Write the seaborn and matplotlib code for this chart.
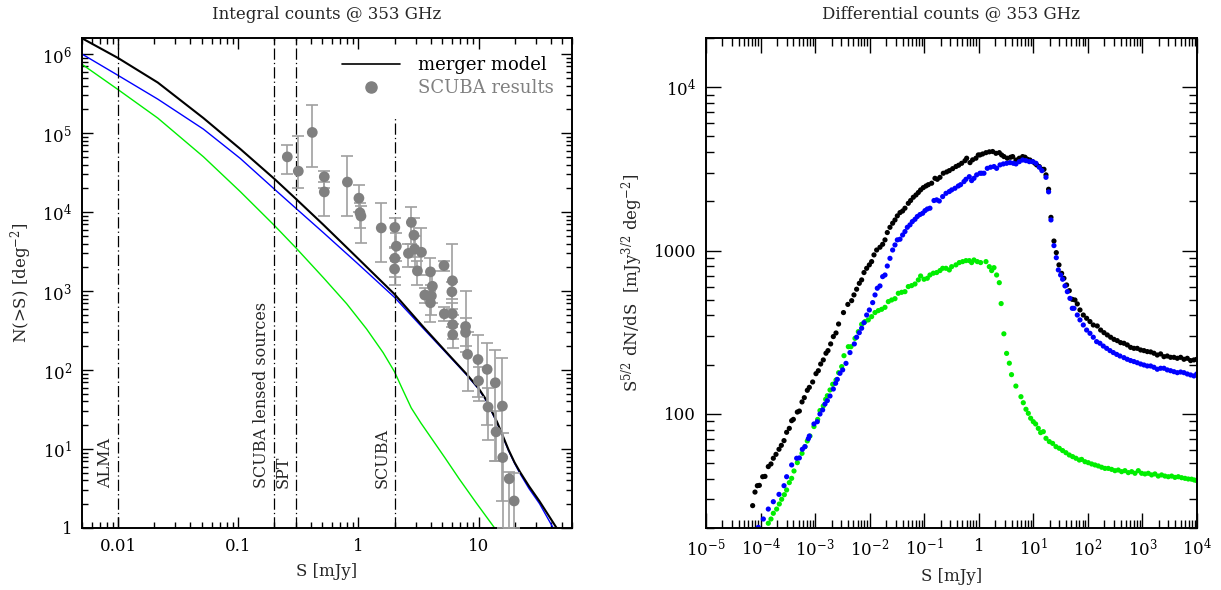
import numpy as np
import pandas as pd
import matplotlib
matplotlib.use("Agg")
import matplotlib.pyplot as plt
import seaborn as sns
from matplotlib.ticker import FixedLocator, FixedFormatter, LogLocator, NullFormatter
from matplotlib.lines import Line2D

# ---------------- data: left panel (integral counts), log10 values ----------------
logS_black = [-2.30, -2.0, -1.67, -1.29, -0.984, -0.699, -0.522, -0.292, -0.015, 0.301, 0.538, 0.760,
              0.90, 1.0, 1.065, 1.155, 1.25, 1.30, 1.345, 1.42, 1.507, 1.646, 1.70]
logN_black = [6.20, 5.95, 5.64, 5.19, 4.80, 4.42, 4.17, 3.84, 3.43, 2.96, 2.55, 2.18,
              1.95, 1.77, 1.62, 1.34, 0.99, 0.83, 0.71, 0.53, 0.34, 0.01, -0.10]

logS_blue = [-2.30, -2.0, -1.67, -1.29, -0.984, -0.699, -0.522, -0.292, -0.015, 0.301, 0.538, 0.760,
             0.90, 1.0, 1.065, 1.155, 1.25, 1.30, 1.345, 1.42, 1.507, 1.618, 1.70]
logN_blue = [6.00, 5.73, 5.43, 5.05, 4.68, 4.29, 4.05, 3.74, 3.36, 2.92, 2.53, 2.17,
             1.94, 1.76, 1.61, 1.33, 0.98, 0.82, 0.69, 0.50, 0.31, 0.01, -0.15]

logS_green = [-2.30, -2.0, -1.67, -1.29, -0.984, -0.699, -0.522, -0.292, -0.098, 0.068, 0.206, 0.30,
              0.36, 0.44, 0.52, 0.62, 0.72, 0.84, 0.98, 1.134, 1.20]
logN_green = [5.87, 5.55, 5.19, 4.70, 4.26, 3.83, 3.55, 3.17, 2.84, 2.52, 2.22, 1.98,
              1.78, 1.52, 1.33, 1.11, 0.89, 0.62, 0.32, 0.0, -0.14]

scuba_S = [0.256, 0.316, 0.413, 0.52, 0.52, 0.81, 1.01, 1.03, 1.05, 1.55, 2.01, 2.07, 2.01, 2.0,
           2.76, 2.9, 2.61, 2.94, 3.35, 3.1, 3.98, 4.13, 3.57, 4.05, 3.98, 5.16, 6.06, 6.0, 5.19,
           6.05, 6.1, 6.1, 7.8, 7.8, 8.1, 9.9, 11.8, 10.0, 13.8, 12.0, 15.8, 14.0, 15.9, 18.0, 19.8]
scuba_N = [5.0e4, 3.3e4, 1.02e5, 2.8e4, 1.8e4, 2.4e4, 1.5e4, 9.8e3, 8.9e3, 6.3e3, 6.4e3, 3.7e3, 2.6e3, 1.9e3,
           7.4e3, 5.1e3, 3.0e3, 3.4e3, 3.1e3, 1.8e3, 1.75e3, 1.15e3, 890, 870, 710, 2.1e3, 1.35e3, 980, 515,
           515, 375, 280, 356, 300, 158, 136, 102, 73, 69, 34, 35, 16.5, 7.8, 4.2, 2.2]
scuba_lo = [3.0e4, 2.0e4, 3.7e4, 2.0e4, 9.0e3, 9.0e3, 1.0e4, 6.2e3, 4.1e3, 2.3e3, 3.6e3, 2.4e3, 1.5e3, 1.2e3,
            4.0e3, 2.7e3, 2.0e3, 2.0e3, 1.6e3, 1.2e3, 7.0e2, 7.0e2, 700, 500, 400, 1.8e3, 800, 600, 420,
            350, 250, 190, 200, 170, 55, 45, 20, 40, 7, 13, 2.2, 7, 1, 1, 1]
scuba_hi = [7.1e4, 9.3e4, 2.3e5, 3.3e4, 2.4e4, 5.1e4, 2.2e4, 1.3e4, 1.2e4, 1.3e4, 8.5e3, 5.5e3, 3.5e3, 2.6e3,
            1.15e4, 8.5e3, 4.0e3, 5.0e3, 6.2e3, 2.4e3, 2.6e3, 1.8e3, 1100, 1200, 1000, 2.4e3, 3.9e3, 1300, 620,
            700, 500, 380, 1000, 450, 300, 280, 220, 110, 180, 60, 140, 30, 16, 5.1, 5.0]

limit_S = [0.01, 0.2, 0.3, 2.0]
limit_top = [1.6e6, 1.6e6, 1.6e6, 1.6e5]
limit_labels = ["ALMA", "SCUBA lensed sources", "SPT", "SCUBA"]
label_base_N = 3.2

left_xticks = [0.01, 0.1, 1, 10]
left_xticklabels = ["0.01", "0.1", "1", "10"]
left_yticks = [1, 1e1, 1e2, 1e3, 1e4, 1e5, 1e6]
left_yticklabels = ["1", "$10^1$", "$10^2$", "$10^3$", "$10^4$", "$10^5$", "$10^6$"]

# ---------------- data: right panel (differential counts), log10 values ----------------
dlogS_black = [-4.145, -4.102, -4.059, -4.022, -3.961, -3.919, -3.858, -3.809, -3.766, -3.717, -3.662,
               -3.619, -3.570, -3.522, -3.473, -3.430, -3.399, -3.326, -3.289, -3.240, -3.198, -3.143,
               -3.106, -3.045, -2.984, -2.941, -2.898, -2.850, -2.801, -2.764, -2.715, -2.666, -2.617,
               -2.57, -2.48, -2.40,
               -2.330, -2.288, -2.239, -2.190, -2.147, -2.104, -2.055, -2.006, -1.964, -1.921, -1.872,
               -1.811, -1.762, -1.719, -1.677, -1.628, -1.579, -1.536, -1.493, -1.444, -1.396, -1.353,
               -1.292, -1.249, -1.200, -1.151, -1.108, -1.066, -1.017, -0.968, -0.925, -0.864, -0.803,
               -0.760, -0.711, -0.650, -0.589, -0.540, -0.479, -0.418, -0.369, -0.314, -0.253, -0.222,
               -0.161, -0.113, -0.052, -0.009,
               0.022, 0.071, 0.132, 0.193, 0.254, 0.315, 0.376, 0.419, 0.462, 0.523, 0.584, 0.621, 0.682,
               0.743, 0.804, 0.847, 0.889, 0.938, 0.987, 1.030, 1.061, 1.109, 1.158, 1.195, 1.232, 1.280,
               1.323, 1.378, 1.421,
               1.470, 1.519, 1.561, 1.610, 1.659, 1.714, 1.763, 1.806, 1.855, 1.916, 1.977, 2.038, 2.099,
               2.172, 2.234, 2.295, 2.356, 2.417, 2.478, 2.539, 2.600, 2.661, 2.722, 2.783, 2.844, 2.905,
               2.967, 3.028, 3.089, 3.150, 3.211, 3.272, 3.333, 3.394, 3.455, 3.516, 3.578, 3.639, 3.700,
               3.761, 3.822, 3.883, 3.944, 3.995]
dlogY_black = [1.438, 1.521, 1.560, 1.562, 1.615, 1.617, 1.677, 1.693, 1.728, 1.752, 1.783,
               1.807, 1.836, 1.887, 1.911, 1.958, 1.966, 2.011, 2.017, 2.073, 2.099, 2.144,
               2.162, 2.195, 2.246, 2.264, 2.305, 2.330, 2.371, 2.387, 2.428, 2.473, 2.495,
               2.55, 2.62, 2.67,
               2.693, 2.728, 2.763, 2.799, 2.820, 2.865, 2.891, 2.912, 2.932, 2.973, 3.003,
               3.020, 3.038, 3.065, 3.110, 3.142, 3.167, 3.187, 3.212, 3.232, 3.242, 3.259,
               3.289, 3.306, 3.326, 3.340, 3.355, 3.371, 3.385, 3.395, 3.403, 3.412, 3.442,
               3.436, 3.448, 3.473, 3.481, 3.489, 3.501, 3.514, 3.522, 3.534, 3.550, 3.565,
               3.538, 3.555, 3.565, 3.585,
               3.585, 3.591, 3.599, 3.604, 3.606, 3.595, 3.599, 3.585, 3.575, 3.565, 3.571, 3.575, 3.554,
               3.565, 3.575, 3.571, 3.559, 3.554, 3.544, 3.534, 3.524, 3.514, 3.497, 3.497, 3.463, 3.375,
               3.203, 3.058, 2.987,
               2.912, 2.860, 2.830, 2.789, 2.754, 2.701, 2.697, 2.673, 2.636, 2.605, 2.585, 2.565, 2.544,
               2.538, 2.513, 2.497, 2.483, 2.469, 2.456, 2.448, 2.436, 2.432, 2.422, 2.407, 2.401, 2.401,
               2.391, 2.387, 2.381, 2.379, 2.371, 2.360, 2.367, 2.350, 2.354, 2.346, 2.346, 2.340, 2.346,
               2.334, 2.340, 2.326, 2.330, 2.334]

dlogS_blue = [-4.041, -3.949, -3.858, -3.766, -3.662, -3.570, -3.522, -3.430, -3.338, -3.289, -3.234,
              -3.186, -3.124, -3.106, -3.021, -2.960, -2.911, -2.862, -2.819, -2.776, -2.727, -2.666,
              -2.624, -2.593, -2.544, -2.495, -2.434, -2.361, -2.281,
              -2.239, -2.190, -2.147, -2.104, -2.055, -2.006, -1.945, -1.902, -1.860, -1.811, -1.762,
              -1.719, -1.677, -1.628, -1.579, -1.536, -1.493, -1.444, -1.396, -1.353, -1.310, -1.261,
              -1.218, -1.169, -1.127, -1.078, -1.029, -0.986, -0.943, -0.895, -0.821, -0.772, -0.724,
              -0.662, -0.601, -0.540, -0.497, -0.436, -0.375, -0.333, -0.271, -0.235, -0.174, -0.131,
              -0.088, -0.039, 0.022,
              0.053, 0.095, 0.156, 0.217, 0.279, 0.327, 0.389, 0.450, 0.511, 0.572, 0.633, 0.682, 0.743,
              0.804, 0.865, 0.926, 0.987, 1.048, 1.109, 1.158, 1.232, 1.280, 1.323, 1.378, 1.421,
              1.458, 1.500, 1.537, 1.580, 1.623, 1.671, 1.714, 1.745, 1.806, 1.855, 1.916, 1.977, 2.038,
              2.099, 2.160, 2.221, 2.282, 2.344, 2.405, 2.466, 2.527, 2.588, 2.661, 2.722, 2.783, 2.844,
              2.905, 2.967, 3.028, 3.089, 3.150, 3.211, 3.272, 3.333, 3.394, 3.455, 3.516, 3.578, 3.639,
              3.700, 3.761, 3.822, 3.883, 3.944, 3.995]
dlogY_blue = [1.305, 1.356, 1.417, 1.462, 1.507, 1.560, 1.615, 1.687, 1.728, 1.730, 1.783,
              1.799, 1.848, 1.864, 1.938, 1.952, 1.999, 2.024, 2.060, 2.081, 2.109, 2.152,
              2.187, 2.211, 2.248, 2.269, 2.309, 2.375, 2.428,
              2.469, 2.497, 2.524, 2.558, 2.605, 2.636, 2.681, 2.728, 2.769, 2.783, 2.840,
              2.850, 2.905, 2.952, 3.003, 3.034, 3.065, 3.069, 3.095, 3.116, 3.142, 3.157,
              3.177, 3.191, 3.208, 3.220, 3.228, 3.244, 3.254, 3.259, 3.306, 3.310, 3.303,
              3.330, 3.350, 3.361, 3.371, 3.381, 3.395, 3.403, 3.422, 3.436, 3.452, 3.428,
              3.442, 3.463, 3.473,
              3.473, 3.473, 3.503, 3.510, 3.514, 3.503, 3.524, 3.530, 3.534, 3.538, 3.534, 3.530, 3.544,
              3.554, 3.550, 3.544, 3.544, 3.534, 3.510, 3.489, 3.448, 3.359, 3.187, 3.030, 2.956,
              2.881, 2.850, 2.824, 2.783, 2.748, 2.707, 2.646, 2.646, 2.605, 2.575, 2.544, 2.513, 2.493,
              2.469, 2.442, 2.432, 2.415, 2.401, 2.387, 2.375, 2.364, 2.354, 2.344, 2.334, 2.326, 2.320,
              2.313, 2.305, 2.299, 2.293, 2.293, 2.285, 2.273, 2.279, 2.279, 2.269, 2.264, 2.258, 2.252,
              2.256, 2.252, 2.244, 2.238, 2.232, 2.244]

dlogS_green = [-3.858, -3.809, -3.766, -3.705, -3.656, -3.613, -3.564, -3.522, -3.473, -3.430, -3.387,
               -3.326, -3.240, -3.186, -3.143, -3.094, -3.021, -2.953, -2.911, -2.850, -2.807, -2.776,
               -2.727, -2.678, -2.617, -2.569, -2.513, -2.471, -2.391, -2.343, -2.269,
               -2.208, -2.147, -2.086, -2.025, -1.964, -1.902, -1.841, -1.780, -1.719, -1.658, -1.597,
               -1.536, -1.475, -1.414, -1.353, -1.292, -1.231, -1.169, -1.108, -1.066, -1.004, -0.943,
               -0.895, -0.833, -0.772, -0.711, -0.662, -0.601, -0.540, -0.497, -0.418, -0.357, -0.296,
               -0.235, -0.174, -0.131, -0.088, -0.027, 0.034,
               0.132, 0.193, 0.236, 0.279, 0.327, 0.376,
               0.41, 0.46, 0.51, 0.56, 0.60, 0.68,
               0.773, 0.816, 0.865, 0.908, 0.951, 0.999, 1.042, 1.091, 1.134, 1.183, 1.232, 1.293, 1.354,
               1.415, 1.476, 1.537, 1.598, 1.659, 1.720, 1.781, 1.843, 1.885, 1.946, 2.007, 2.069, 2.130,
               2.191, 2.252, 2.313, 2.374, 2.435, 2.496, 2.557, 2.618, 2.679, 2.741, 2.802, 2.863, 2.924,
               2.985, 3.046, 3.107, 3.168, 3.229, 3.290, 3.351, 3.412, 3.474, 3.535, 3.596, 3.657, 3.718,
               3.78, 3.84, 3.90, 3.95, 3.99]
dlogY_green = [1.330, 1.356, 1.391, 1.417, 1.448, 1.477, 1.505, 1.534, 1.579, 1.605, 1.650,
               1.701, 1.758, 1.799, 1.834, 1.864, 1.922, 1.966, 2.020, 2.048, 2.089, 2.111,
               2.146, 2.181, 2.207, 2.252, 2.289, 2.356, 2.411, 2.411, 2.462,
               2.503, 2.548, 2.565, 2.575, 2.595, 2.620, 2.632, 2.640, 2.652, 2.687, 2.697,
               2.705, 2.738, 2.744, 2.748, 2.779, 2.785, 2.795, 2.820, 2.844, 2.824, 2.830,
               2.850, 2.861, 2.865, 2.877, 2.891, 2.891, 2.881, 2.901, 2.912, 2.926, 2.932,
               2.938, 2.938, 2.926, 2.942, 2.932, 2.926,
               2.932, 2.901, 2.877, 2.895, 2.850, 2.803,
               2.675, 2.49, 2.37, 2.31, 2.24, 2.17,
               2.105, 2.068, 2.028, 2.003, 1.973, 1.952, 1.938, 1.911, 1.885, 1.891, 1.850, 1.830, 1.819,
               1.799, 1.789, 1.775, 1.762, 1.748, 1.738, 1.728, 1.717, 1.721, 1.707, 1.701, 1.693, 1.687,
               1.681, 1.673, 1.666, 1.666, 1.660, 1.652, 1.656, 1.646, 1.652, 1.640, 1.646, 1.636, 1.652,
               1.636, 1.632, 1.636, 1.626, 1.632, 1.619, 1.626, 1.619, 1.615, 1.619, 1.611, 1.615, 1.609,
               1.605, 1.601, 1.600, 1.595, 1.592]

right_xticks = [1e-5, 1e-4, 1e-3, 1e-2, 1e-1, 1, 1e1, 1e2, 1e3, 1e4]
right_xticklabels = ["$10^{-5}$", "$10^{-4}$", "$10^{-3}$", "$10^{-2}$", "$10^{-1}$", "1",
                     "$10^{1}$", "$10^{2}$", "$10^{3}$", "$10^{4}$"]
right_yticks = [100, 1000, 1e4]
right_yticklabels = ["100", "1000", "$10^4$"]

# ---------------- style ----------------
sns.set_theme(style="ticks")
plt.rcParams["font.family"] = ["DejaVu Serif"]
plt.rcParams["mathtext.fontset"] = "dejavuserif"
plt.rcParams["axes.linewidth"] = 1.4

GRAY = "#808080"
EGRAY = "#a0a0a0"
GREEN = "#00ee00"
BLUE = "#0000ff"

fig = plt.figure(figsize=(12.21, 5.90), dpi=100)
axL = fig.add_axes([82 / 1221, 1 - 528 / 590, 490 / 1221, 490 / 590])
axR = fig.add_axes([706 / 1221, 1 - 528 / 590, 491 / 1221, 490 / 590])


def style_axes(ax, maj_len, min_len):
    ax.set_xscale("log")
    ax.set_yscale("log")
    ax.tick_params(which="both", direction="in", top=True, right=True, colors="black",
                   labelsize=12, width=1.0)
    ax.tick_params(which="major", length=maj_len, pad=7)
    ax.tick_params(which="minor", length=min_len)
    ax.xaxis.set_minor_locator(LogLocator(base=10, subs=np.arange(2, 10), numticks=100))
    ax.yaxis.set_minor_locator(LogLocator(base=10, subs=np.arange(2, 10), numticks=100))
    ax.xaxis.set_minor_formatter(NullFormatter())
    ax.yaxis.set_minor_formatter(NullFormatter())
    for sp in ax.spines.values():
        sp.set_visible(True)
        sp.set_color("black")


# ---------------- left panel ----------------
dfL = pd.concat([
    pd.DataFrame({"S": 10 ** np.array(logS_green), "N": 10 ** np.array(logN_green), "model": "green"}),
    pd.DataFrame({"S": 10 ** np.array(logS_blue), "N": 10 ** np.array(logN_blue), "model": "blue"}),
    pd.DataFrame({"S": 10 ** np.array(logS_black), "N": 10 ** np.array(logN_black), "model": "merger"}),
])
sns.lineplot(data=dfL, x="S", y="N", hue="model", ax=axL, sort=False, estimator=None,
             palette={"merger": "black", "blue": BLUE, "green": GREEN},
             hue_order=["green", "blue", "merger"], legend=False)
for line, lw in zip(axL.get_lines(), [1.0, 1.0, 1.5]):
    line.set_linewidth(lw)
    line.set_solid_joinstyle("round")

axL.vlines(limit_S, [1] * len(limit_S), limit_top, colors="black", linewidth=0.9,
           linestyles=[(0, (9, 2.5, 1, 2.5))])
for xs, lab in zip(limit_S, limit_labels):
    axL.annotate(lab, xy=(xs, label_base_N), xytext=(-3, 0), textcoords="offset points",
                 rotation=90, ha="right", va="bottom", fontsize=11.5)

sS = np.array(scuba_S)
sN = np.array(scuba_N)
yerr = np.vstack([sN - np.array(scuba_lo), np.array(scuba_hi) - sN])
axL.errorbar(sS, sN, yerr=yerr, fmt="none", ecolor=EGRAY, elinewidth=1.2, capsize=4, capthick=1.2, zorder=3)
sns.scatterplot(x=sS, y=sN, color=GRAY, s=60, edgecolor="none", ax=axL, zorder=4)

style_axes(axL, 8, 4.5)
axL.set_xlim(0.005, 60)
axL.set_ylim(1, 1.6e6)
axL.xaxis.set_major_locator(FixedLocator(left_xticks))
axL.xaxis.set_major_formatter(FixedFormatter(left_xticklabels))
axL.yaxis.set_major_locator(FixedLocator(left_yticks))
axL.yaxis.set_major_formatter(FixedFormatter(left_yticklabels))
axL.set_xlabel("S [mJy]", fontsize=12, labelpad=6)
axL.set_ylabel("N(>S) [deg$^{-2}$]", fontsize=12, labelpad=6)
axL.set_title("Integral counts @ 353 GHz", fontsize=12, pad=14)

handles = [Line2D([], [], color="black", lw=1.2),
           Line2D([], [], color=GRAY, marker="o", ls="none", ms=8)]
axL.legend(handles, ["merger model", "SCUBA results"], loc="upper right", frameon=False,
           fontsize=13, labelcolor=["black", GRAY], handlelength=3.2, borderaxespad=0.6,
           handletextpad=1.0, labelspacing=0.3)

# ---------------- right panel ----------------
dfR = pd.concat([
    pd.DataFrame({"S": 10 ** np.array(dlogS_black), "Y": 10 ** np.array(dlogY_black), "model": "black"}),
    pd.DataFrame({"S": 10 ** np.array(dlogS_green), "Y": 10 ** np.array(dlogY_green), "model": "green"}),
    pd.DataFrame({"S": 10 ** np.array(dlogS_blue), "Y": 10 ** np.array(dlogY_blue), "model": "blue"}),
])
sns.scatterplot(data=dfR, x="S", y="Y", hue="model", ax=axR, s=14, edgecolor="none",
                palette={"black": "black", "blue": BLUE, "green": GREEN}, legend=False)

style_axes(axR, 11, 6)
axR.set_xlim(1e-5, 1e4)
axR.set_ylim(20, 2e4)
axR.xaxis.set_major_locator(FixedLocator(right_xticks))
axR.xaxis.set_major_formatter(FixedFormatter(right_xticklabels))
axR.yaxis.set_major_locator(FixedLocator(right_yticks))
axR.yaxis.set_major_formatter(FixedFormatter(right_yticklabels))
axR.set_xlabel("S [mJy]", fontsize=12, labelpad=6)
axR.set_ylabel("S$^{5/2}$ dN/dS  [mJy$^{3/2}$ deg$^{-2}$]", fontsize=12, labelpad=6)
axR.set_title("Differential counts @ 353 GHz", fontsize=12, pad=14)

fig.savefig("out.png", dpi=100)
